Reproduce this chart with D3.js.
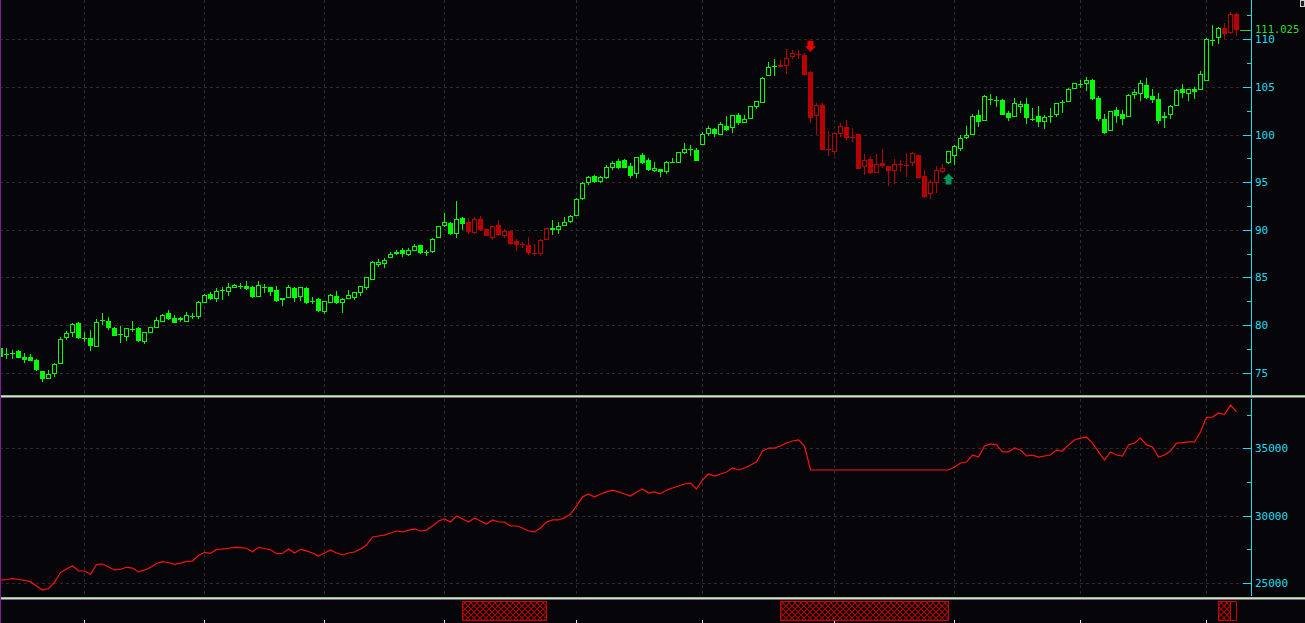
<!DOCTYPE html>
<html><head><meta charset="utf-8">
<script src="https://cdn.jsdelivr.net/npm/d3@7"></script>
<style>html,body{margin:0;padding:0;background:#06060a;overflow:hidden}</style>
</head><body><svg id="c" width="1305" height="623"></svg>
<script>
const opens=[77.56,76.95,77.04,77.28,76.65,76.62,76.30,75.18,74.37,74.83,
75.88,78.61,79.2,80.19,78.68,78.61,77.73,80.53,80.43,79.66,
79.1,78.78,79.56,79.66,78.26,79.2,79.73,80.29,81.24,80.78,
80.71,80.36,80.99,80.88,82.29,83.26,82.74,83.68,83.51,83.93,
84.07,84.1,84.0,82.98,84.0,83.96,83.68,82.6,82.87,83.86,
82.91,83.86,82.56,82.74,81.4,82.36,83.05,82.36,82.7,82.88,
83.4,83.93,84.68,86.31,86.38,87.01,87.43,87.85,87.36,87.81,
88.41,87.71,87.71,89.11,90.44,90.73,89.53,91.25,90.8,89.64,
91.15,90.09,89.18,90.51,89.39,89.88,88.83,88.48,88.41,87.6,
87.46,88.97,90.23,89.95,90.44,90.86,91.5,93.2,94.9,95.6,
95.0,95.4,96.5,97.22,97.33,96.7,95.83,97.85,97.33,96.21,
96.38,96.05,97.14,97.05,98.09,98.45,98.38,98.94,100.03,100.59,
99.99,100.9,100.66,102.06,101.26,101.68,102.93,103.35,106.13,107.2,
107.3,107.23,108.11,108.42,108.35,106.53,101.98,103.1,98.45,98.2,
100.06,100.76,99.78,100.06,96.63,97.44,95.94,97.0,96.7,96.21,
96.91,96.81,97.05,97.85,95.66,93.73,94.88,96.02,97.01,97.78,
98.52,99.64,99.99,102.02,101.46,103.76,103.66,103.6,102.23,101.88,
102.9,103.21,101.67,101.92,101.32,101.98,102.09,103.39,103.45,104.82,
105.31,105.31,105.73,103.81,101.63,100.41,102.55,102.16,101.88,104.12,
104.29,105.2,104.05,103.73,101.71,102.09,103.03,104.79,104.29,104.82,
104.71,105.65,109.97,110.1,111.15,110.66,112.68];
const highs=[77.6,77.55,77.35,77.38,77.07,76.96,76.41,75.18,75.25,76.02,
78.75,79.38,80.25,80.29,79.24,79.45,80.61,81.27,80.82,79.8,
79.9,79.66,80.43,79.8,79.24,79.8,80.85,81.16,81.58,81.06,
80.88,81.34,81.3,82.53,83.26,83.44,83.86,83.97,84.38,84.28,
84.38,84.63,84.14,84.63,84.31,83.96,84.14,82.81,84.2,83.96,
83.96,84.0,82.91,82.88,82.53,83.23,83.58,82.81,83.65,83.44,
84.1,85.05,86.73,86.94,87.01,87.71,87.88,88.06,88.06,88.49,
88.41,87.88,89.18,90.42,91.77,90.86,93.04,91.38,91.28,91.32,
91.43,90.09,90.37,91.03,90.09,89.88,89.04,88.76,89.25,88.48,
89.0,90.16,91.03,90.8,91.35,91.57,93.32,95.0,95.7,95.8,
95.7,96.8,97.2,97.4,97.43,96.98,97.61,98.03,97.51,97.1,
96.38,97.25,97.49,98.2,99.14,98.9,98.56,100.24,100.9,100.66,
101.32,101.95,102.06,102.24,102.06,103.0,103.53,106.07,107.6,107.93,
107.83,108.98,108.88,108.88,108.53,106.67,103.28,103.28,100.38,100.31,
101.18,101.53,100.73,100.06,97.96,97.61,97.96,98.48,96.7,97.44,
97.33,98.05,98.2,97.85,96.28,95.24,96.7,96.9,98.3,98.94,
99.92,100.93,102.16,102.58,104.12,104.26,104.08,103.73,102.44,103.83,
103.5,103.83,102.79,102.96,102.02,102.79,103.28,103.63,104.89,105.38,
105.73,106.04,105.86,104.02,102.16,102.44,102.9,102.58,104.26,104.78,
105.73,105.94,104.78,104.36,102.37,103.07,104.75,105.31,104.79,105.0,
106.7,110.14,111.47,111.26,111.71,112.89,112.78];
const lows=[76.6,76.45,76.45,76.51,76.05,76.2,75.18,74.07,74.37,74.58,
75.88,78.4,78.78,78.54,78.19,77.31,77.73,80.0,79.48,78.82,
78.15,78.36,79.31,78.26,78.01,79.2,79.73,80.29,80.53,80.25,
80.36,80.36,80.64,80.61,82.29,82.64,82.39,82.64,83.06,83.86,
83.76,83.68,82.81,82.98,83.4,83.05,82.45,82.03,82.87,82.45,
82.56,82.21,82.21,81.4,81.16,82.36,82.18,81.24,82.7,82.67,
83.09,83.68,84.68,86.13,86.03,87.01,87.36,87.18,87.25,87.81,
87.5,87.29,87.6,89.11,90.33,89.46,89.18,90.0,89.57,89.57,
89.88,89.32,88.94,89.39,89.18,88.41,87.81,88.13,87.36,87.25,
87.25,88.97,89.46,89.57,90.44,90.73,91.5,93.1,94.7,94.9,
94.9,95.3,96.3,96.4,96.45,95.47,95.47,96.91,96.18,96.04,
95.57,95.91,97.0,97.05,97.93,97.78,97.23,98.94,99.86,99.79,
99.99,100.38,100.2,101.0,101.26,101.68,102.69,103.35,106.13,106.16,
107.04,106.31,107.93,107.9,106.25,101.18,99.99,98.38,97.78,97.85,
99.72,99.44,99.25,96.38,95.76,95.87,95.94,96.45,94.65,94.82,
96.03,95.58,96.7,95.4,93.38,93.24,93.83,95.93,96.91,96.84,
98.31,99.57,99.99,100.79,101.39,103.14,102.89,102.08,101.46,101.88,
102.23,101.14,101.39,100.79,100.62,101.21,101.88,102.26,103.45,104.82,
104.89,104.61,103.63,101.39,100.06,100.41,101.21,101.04,101.88,103.76,
103.56,103.77,103.32,101.11,100.69,101.67,103.03,103.84,103.56,103.76,
104.71,105.65,109.32,109.5,110.06,110.52,110.34];
const closes=[76.68,76.95,77.04,76.58,76.33,76.23,75.28,74.34,74.83,75.88,
78.51,79.14,80.08,78.68,78.68,77.84,80.36,80.53,79.73,78.89,
79.1,79.66,79.56,78.33,79.24,79.77,80.5,81.06,80.64,80.25,
80.5,81.06,80.99,82.39,83.16,82.74,83.58,83.68,83.97,84.2,
84.07,83.79,82.98,84.24,84.0,83.5,82.56,82.81,83.96,82.81,
83.96,82.36,82.56,81.51,82.53,83.16,82.36,82.74,83.16,83.44,
84.1,85.05,86.6,86.6,86.84,87.43,87.71,87.5,87.88,88.31,
87.6,87.71,89.04,90.37,90.8,89.57,91.11,90.62,89.8,91.11,
89.99,89.39,90.37,89.46,89.84,88.51,88.41,88.48,87.57,87.6,
88.9,90.16,89.95,90.37,90.8,91.46,93.21,94.9,95.5,95.0,
95.5,96.6,97.0,96.46,96.52,95.68,97.61,97.04,96.28,96.49,
96.1,97.14,97.14,98.14,98.48,98.45,97.23,100.03,100.69,100.06,
101.11,100.48,102.06,101.26,101.65,103.0,103.53,105.9,107.07,107.2,
107.13,108.0,108.53,108.42,106.25,101.77,103.07,98.38,98.45,100.13,
100.9,99.67,99.78,96.38,97.33,95.94,96.91,96.72,96.19,96.91,
96.91,96.81,98.1,95.47,93.49,95.0,96.28,96.49,98.24,98.77,
99.64,99.92,101.92,101.32,104.02,103.76,103.66,102.08,101.74,103.28,
103.18,101.74,101.67,101.32,101.81,101.98,103.28,103.39,104.75,105.38,
105.31,105.7,103.74,101.63,100.16,102.44,101.98,101.63,104.12,104.47,
105.38,103.84,103.63,101.46,101.95,102.97,104.65,104.4,104.79,104.5,
106.33,110.0,109.97,111.15,110.59,112.68,111.025];
const lineValues=[25220,25260,25320,25260,25200,25100,24780,24480,24590,25040,
25790,26040,26280,25890,25890,25650,26370,26410,26190,25970,
26020,26170,26110,25820,25970,26150,26450,26580,26520,26390,
26480,26600,26630,27040,27280,27200,27500,27520,27580,27650,
27620,27580,27320,27650,27560,27470,27180,27200,27520,27230,
27500,27380,27230,27000,27230,27450,27230,27080,27230,27300,
27520,27820,28420,28490,28560,28710,28860,28790,28930,29010,
28860,28930,29230,29600,29750,29530,29970,29750,29530,29830,
29600,29380,29680,29530,29530,29230,29230,29080,28860,28790,
29080,29530,29680,29680,29830,30120,30720,31380,31610,31380,
31610,31760,31900,31760,31610,31460,31760,31980,31680,31760,
31610,31900,32050,32200,32350,32420,31980,32650,33090,32940,
33090,33240,33540,33390,33540,33760,33980,34800,35020,35020,
35170,35390,35540,35620,35170,33390,33390,33390,33390,33390,
33390,33390,33390,33390,33390,33390,33390,33390,33390,33390,
33390,33390,33390,33390,33390,33390,33390,33390,33390,33610,
33910,33980,34500,34350,35170,35320,35250,34730,34730,35020,
34870,34430,34500,34350,34430,34500,34870,34800,35250,35620,
35760,35840,35390,34730,34130,34730,34500,34430,35250,35390,
35760,35250,35100,34350,34500,34800,35390,35420,35470,35470,
36210,37300,37320,37620,37510,38210,37700];
const redTrends=[[78,91],[130,157],[204,206]];
const signalBands=[[77,91],[130,158],[203,205]];
const openBand=[205,206];
const arrowSignals=[{i:135,type:"down",price:108.7},{i:158,type:"up",price:95.9}];
const priceTicks=[75,80,85,90,95,100,105,110];
const priceMinorTicks=[77.5,82.5,87.5,92.5,97.5,102.5,107.5,112.5];
const lineTicks=[25000,30000,35000];
const lineMinorTicks=[27500,32500,37500];
const monthStarts=[14,34,54,74,96,117,139,159,180,201];
const lastPrice=111.025;

const W=1305,H=623;
const svg=d3.select("#c");
const BG="#06060a", CYAN="#22dcec", GRID="#2a2a2e";
const GREEN="#00ff00", RED="#b80000";
svg.append("rect").attr("width",W).attr("height",H).attr("fill",BG);

const x=d3.scaleLinear().domain([0,206]).range([0,1236]);
const yP=d3.scaleLinear().domain([75,110]).range([372.7,39.3]);
const yL=d3.scaleLinear().domain([25000,35000]).range([583,448.3]);

const defs=svg.append("defs");
defs.append("clipPath").attr("id","cpTop").append("rect").attr("x",0).attr("y",0).attr("width",1251).attr("height",395);
defs.append("clipPath").attr("id","cpBot").append("rect").attr("x",0).attr("y",399).attr("width",1251).attr("height",197);
const pat=defs.append("pattern").attr("id","hatch").attr("patternUnits","userSpaceOnUse").attr("width",6).attr("height",6);
pat.append("rect").attr("width",6).attr("height",6).attr("fill",BG);
pat.append("path").attr("d","M0,0L6,6M6,0L0,6").attr("stroke","#b00000").attr("stroke-width",1.2);

// grid
const grid=svg.append("g").attr("shape-rendering","crispEdges");
grid.selectAll(".hp").data(priceTicks).join("line")
  .attr("x1",0).attr("x2",1243).attr("y1",d=>Math.round(yP(d))+0.5).attr("y2",d=>Math.round(yP(d))+0.5)
  .attr("stroke",GRID).attr("stroke-dasharray","3,3");
grid.selectAll(".hl").data(lineTicks).join("line")
  .attr("x1",0).attr("x2",1243).attr("y1",d=>Math.round(yL(d))+0.5).attr("y2",d=>Math.round(yL(d))+0.5)
  .attr("stroke",GRID).attr("stroke-dasharray","3,3");
monthStarts.forEach(m=>{
  const xx=x(m)+0.5;
  grid.append("line").attr("x1",xx).attr("x2",xx).attr("y1",0).attr("y2",395).attr("stroke",GRID).attr("stroke-dasharray","3,3");
  grid.append("line").attr("x1",xx).attr("x2",xx).attr("y1",399).attr("y2",596).attr("stroke",GRID).attr("stroke-dasharray","3,3");
  grid.append("line").attr("x1",xx).attr("x2",xx).attr("y1",620).attr("y2",623).attr("stroke","#e0e0e0");
});

// candles
const isRed=i=>redTrends.some(([a,b])=>i>=a&&i<=b);
const cg=svg.append("g").attr("clip-path","url(#cpTop)").attr("shape-rendering","crispEdges");
const idx=d3.range(opens.length);
idx.forEach(i=>{
  const col=isRed(i)?RED:GREEN;
  const cx=x(i);
  const yh=Math.round(yP(highs[i])), yl=Math.round(yP(lows[i]));
  cg.append("rect").attr("x",cx).attr("y",yh).attr("width",1).attr("height",Math.max(1,yl-yh)).attr("fill",col);
  const o=opens[i], c=closes[i];
  const yt=Math.round(yP(Math.max(o,c))), yb=Math.round(yP(Math.min(o,c)));
  if(c>o && yb-yt>=2){
    cg.append("rect").attr("x",cx-1.5).attr("y",yt+0.5).attr("width",4).attr("height",yb-yt-1)
      .attr("fill",BG).attr("stroke",col).attr("stroke-width",1);
  } else {
    cg.append("rect").attr("x",cx-2).attr("y",yt).attr("width",5).attr("height",Math.max(1,yb-yt)).attr("fill",col);
  }
});

// arrows
arrowSignals.forEach(a=>{
  const cx=x(a.i)+0.5, ty=yP(a.price);
  let d;
  if(a.type==="down"){
    d=`M${cx-3},${ty-11}L${cx+3},${ty-11}L${cx+3},${ty-5.5}L${cx+5.5},${ty-5.5}L${cx},${ty}L${cx-5.5},${ty-5.5}L${cx-3},${ty-5.5}Z`;
    svg.append("path").attr("d",d).attr("fill","#e80000");
  } else {
    d=`M${cx},${ty}L${cx+5.5},${ty+5.5}L${cx+3},${ty+5.5}L${cx+3},${ty+11}L${cx-3},${ty+11}L${cx-3},${ty+5.5}L${cx-5.5},${ty+5.5}Z`;
    svg.append("path").attr("d",d).attr("fill","#00995a");
  }
});

// lower line
svg.append("path").datum(lineValues).attr("clip-path","url(#cpBot)")
  .attr("d",d3.line().x((d,i)=>x(i)+0.5).y(d=>yL(d)))
  .attr("fill","none").attr("stroke","#ff1010").attr("stroke-width",1.2);

// axes
function styleAxis(g){
  g.select(".domain").remove();
  g.selectAll(".tick line").attr("stroke",CYAN).attr("shape-rendering","crispEdges");
  g.selectAll(".tick text").attr("fill",CYAN).attr("font-family","'DejaVu Sans Mono',monospace").attr("font-size",11);
}
const ap=svg.append("g").attr("transform","translate(1243,0)")
  .call(d3.axisRight(yP).tickValues(priceTicks).tickSize(8).tickPadding(4).tickFormat(d3.format("d")));
styleAxis(ap);
const apm=svg.append("g").attr("transform","translate(1247,0)")
  .call(d3.axisRight(yP).tickValues(priceMinorTicks).tickSize(4).tickFormat(""));
styleAxis(apm);
const al=svg.append("g").attr("transform","translate(1243,0)")
  .call(d3.axisRight(yL).tickValues(lineTicks).tickSize(8).tickPadding(4).tickFormat(d3.format("d")));
styleAxis(al);
const alm=svg.append("g").attr("transform","translate(1247,0)")
  .call(d3.axisRight(yL).tickValues(lineMinorTicks).tickSize(4).tickFormat(""));
styleAxis(alm);
svg.append("line").attr("x1",1251.5).attr("x2",1251.5).attr("y1",0).attr("y2",395).attr("stroke",CYAN);
svg.append("line").attr("x1",1251.5).attr("x2",1251.5).attr("y1",399).attr("y2",596).attr("stroke",CYAN);

// last price
const ly=Math.round(yP(lastPrice))+0.5;
svg.append("line").attr("x1",1240).attr("x2",1251).attr("y1",ly).attr("y2",ly).attr("stroke","#2ed12e");
svg.append("text").attr("x",1255).attr("y",ly-1).attr("dy","0.32em").attr("fill","#33dd33")
  .attr("font-family","'DejaVu Sans Mono',monospace").attr("font-size",10.5).text(d3.format(".3f")(lastPrice));

// separators
svg.append("rect").attr("x",0).attr("y",395).attr("width",W).attr("height",1).attr("fill","#8fbf8f");
svg.append("rect").attr("x",0).attr("y",396).attr("width",W).attr("height",1.5).attr("fill","#d8d8d8");
svg.append("rect").attr("x",0).attr("y",597).attr("width",W).attr("height",1).attr("fill","#8fbf8f");
svg.append("rect").attr("x",0).attr("y",598).attr("width",W).attr("height",1.5).attr("fill","#d8d8d8");

// signal bands
signalBands.forEach(([a,b])=>{
  svg.append("rect").attr("x",x(a)+0.5).attr("y",601.5).attr("width",x(b)-x(a)).attr("height",19)
    .attr("fill","url(#hatch)").attr("stroke","#cc0000").attr("stroke-width",1).attr("shape-rendering","crispEdges");
});
svg.append("rect").attr("x",x(openBand[0])+0.5).attr("y",601.5).attr("width",x(openBand[1])-x(openBand[0])).attr("height",19)
  .attr("fill",BG).attr("stroke","#cc0000").attr("stroke-width",1).attr("shape-rendering","crispEdges");

// left border & corner box
svg.append("rect").attr("x",0).attr("y",0).attr("width",1).attr("height",H).attr("fill","#861a96");
svg.append("rect").attr("x",1300.5).attr("y",0.5).attr("width",4).attr("height",6).attr("fill","#202020").attr("stroke","#cccccc");
</script></body></html>
